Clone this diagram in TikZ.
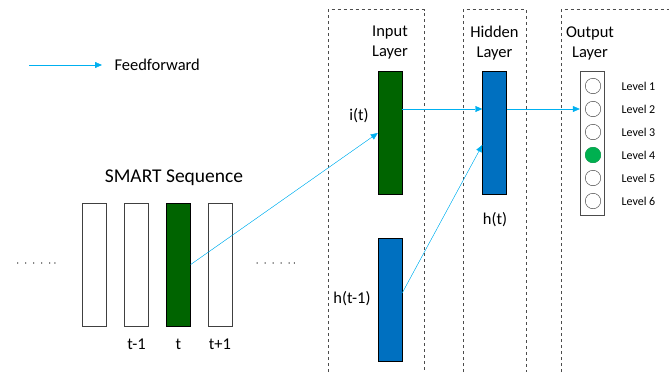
\documentclass[tikz,border=0pt]{standalone}
\usepackage{fontspec}
\setmainfont{Carlito}
\usetikzlibrary{arrows.meta}

\definecolor{ffblue}{RGB}{0,176,240}
\definecolor{darkgreen}{RGB}{0,100,0}
\definecolor{layerblue}{RGB}{0,112,192}
\definecolor{hitgreen}{RGB}{0,176,80}

\begin{document}
\begin{tikzpicture}[
			x=1pt, y=-1pt,
			font=\fontsize{16.5}{20}\selectfont,
			frame/.style={draw=black!70, dashed, thin},
			bar/.style={rectangle, draw=black!75, thin, fill=white,
			inner sep=0pt, minimum width=24pt, minimum height=123pt},
			unit/.style={circle, draw=black!80, thin, fill=white,
			inner sep=0pt, minimum size=15.5pt},
			dots/.style={font=\fontsize{12}{14}\selectfont},
			ff/.style={-{Triangle[length=7pt,width=6pt]}, draw=ffblue, fill=ffblue, thin}
			]
			\useasboundingbox (0,0) rectangle (669,372);

			% legend
			\coordinate (leg1) at (29,65);
			\coordinate (leg2) at (102,65);
			\draw[ff] (leg1) -- (leg2);
			\node[anchor=west] (legtext) at (111,65) {Feedforward};

			% layer frames, open at the bottom
			\draw[frame] (328,372) -- (328,9.5) -- (424,9.5) -- (424,372);
			\draw[frame] (463,372) -- (463,9.5) -- (526,9.5) -- (526,372);
			\draw[frame] (561,372) -- (561,9.5) -- (669,9.5);
			\node[align=center] (inlbl) at (390,43) {Input\\Layer};
			\node[align=center] (hidlbl) at (494.5,43) {Hidden\\Layer};
			\node[align=center] (outlbl) at (590,43) {Output\\Layer};

			% input sequence
			\node[font=\fontsize{19.5}{22}\selectfont] (seqlbl) at (174,178) {SMART Sequence};
			\foreach \x/\name in {94/seq1, 136.5/seq2, 220/seq4}
				\node[bar] (\name) at (\x,264.5) {};
			\node[bar, fill=darkgreen, draw=black] (seqt) at (178.5,264.5) {};
			\node (seqlbl2) at (136.5,344) {t-1};
			\node (seqlbl3) at (178.5,344) {t};
			\node (seqlbl4) at (220,344) {t+1};
			\node[dots] (dotsl) at (36.5,264) {$\cdot\,\cdot\,\cdot\,\cdot\,\cdot\,\cdot$};
			\node[dots] (dotsr) at (276,264) {$\cdot\,\cdot\,\cdot\,\cdot\,\cdot\,\cdot$};

			% input and hidden layers
			\node[bar, fill=darkgreen, draw=black] (it) at (390,133) {};
			\node[bar, fill=layerblue, draw=black] (hprev) at (390,300) {};
			\node[bar, fill=layerblue, draw=black] (hid) at (494.5,133) {};
			\node (itlbl) at (359,116) {i(t)};
			\node (hprevlbl) at (352,299) {h(t-1)};
			\node (hidlbl2) at (495,220) {h(t)};

			% output layer
			\node[bar, minimum height=144pt, draw=black!70] (out) at (592,143) {};
			\foreach \i in {1,...,6} {
				\node[unit] (lvl\i) at (593,{86+23*(\i-1)}) {};
				\node[anchor=west, font=\fontsize{12}{14}\selectfont] (lvltext\i)
					at (618,{86+23*(\i-1)}) {Level \i};
			}
			\node[unit, fill=hitgreen, draw=hitgreen] at (lvl4) {};

			% connections
			\draw[ff] (seqt.east) -- (it.west);
			\draw[ff] ([yshift=24pt]it.east) -- ([yshift=24pt]hid.west);
			\draw[ff] ([yshift=7pt]hprev.east) -- ([yshift=-12pt]hid.west);
			\draw[ff] ([yshift=24pt]hid.east) -- (lvl2 -| out.west);
		\end{tikzpicture}
\end{document}
